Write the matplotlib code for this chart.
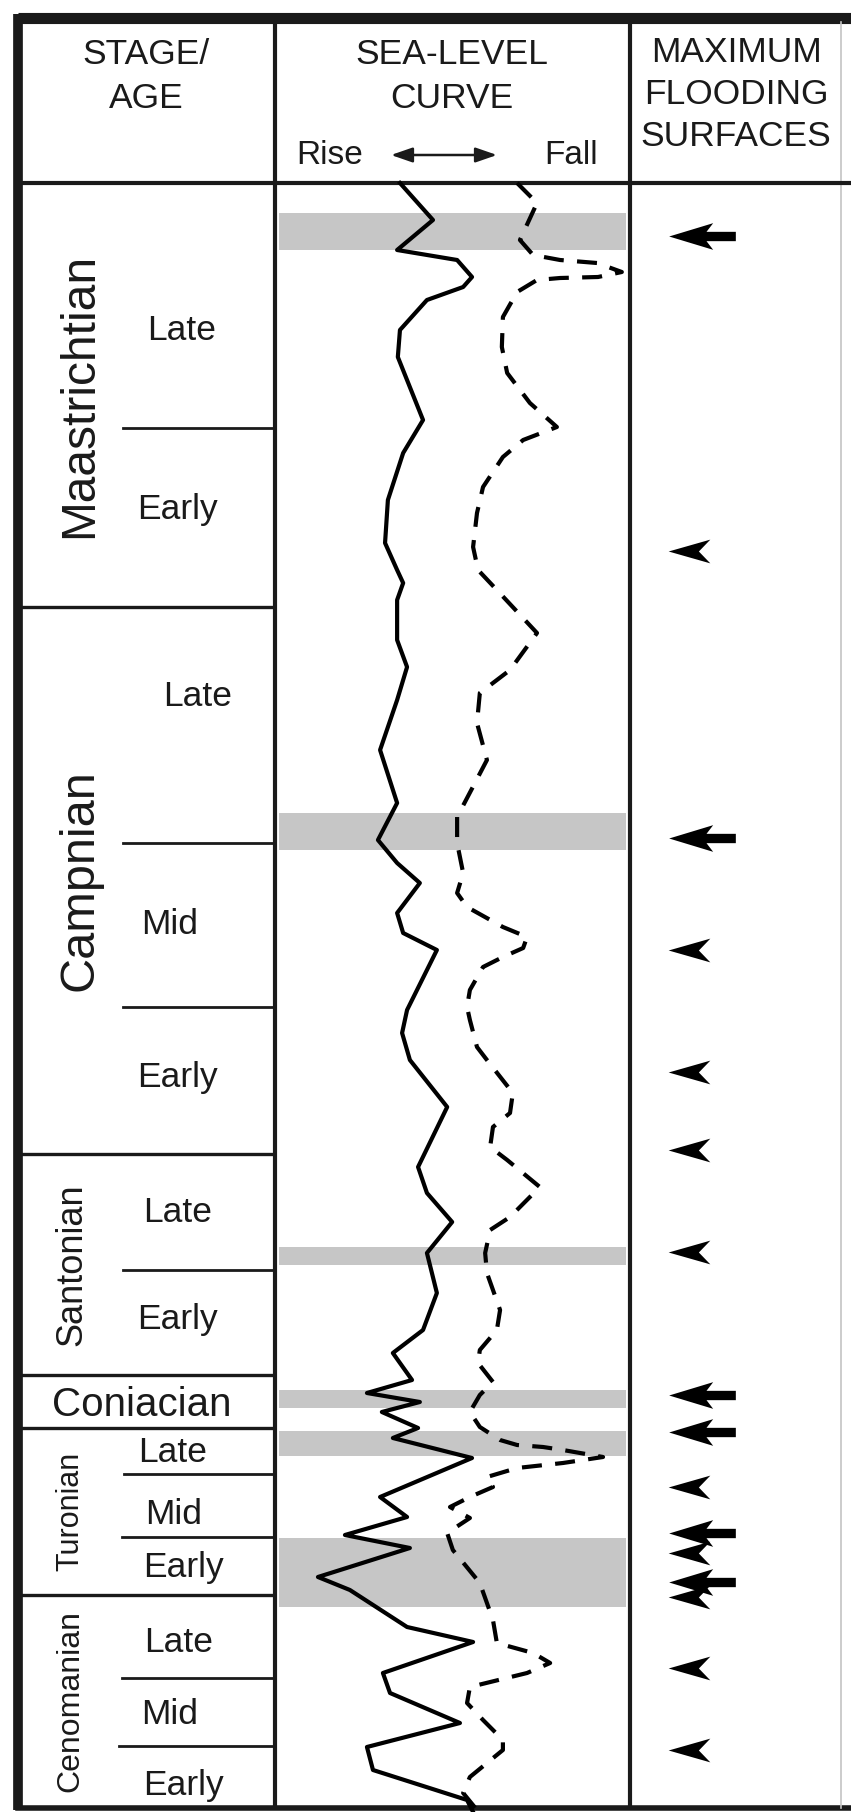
import matplotlib
matplotlib.use("Agg")
import matplotlib.pyplot as plt
from matplotlib.path import Path
import numpy as np

plt.rcParams['font.family'] = ['Liberation Sans', 'DejaVu Sans']
INK = '#1a1a1a'

# ---- stage / age column (vertical positions in chart depth units) ----
stage_names = ['Maastrichtian', 'Campnian', 'Santonian', 'Coniacian', 'Turonian', 'Cenomanian']
stage_tops = [183, 607, 1154, 1375, 1428, 1595]
chart_bottom = 1808
stage_font = [34.5, 35, 26, 29, 22, 23]
stage_label_x = [80, 80, 72, 142, 70, 70]

sub_lines = [428, 843, 1007, 1270, 1474, 1537, 1678, 1746]
sub_line_start = [123, 123, 123, 123, 124, 122, 122, 119]

sub_labels = ['Late', 'Early',
              'Late', 'Mid', 'Early',
              'Late', 'Early',
              'Late', 'Mid', 'Early',
              'Late', 'Mid', 'Early']
sub_label_y = [330, 510, 696, 925, 1077, 1213, 1319, 1453, 1514, 1568, 1643, 1714, 1785]
sub_label_x = [182, 178, 198, 170, 178, 178, 178, 173, 174, 184, 179, 170, 184]

# ---- sea-level curves: 0 = rise ... 100 = fall ----
solid_y = [183, 220, 250, 260, 277, 287, 300, 330, 357, 420, 453, 500, 543, 570, 583, 600,
           640, 667, 700, 750, 803, 840, 863, 883, 913, 933, 950, 1010, 1033, 1060, 1107,
           1167, 1193, 1222, 1253, 1293, 1330, 1353, 1380, 1393, 1402, 1412, 1428, 1438,
           1458, 1497, 1517, 1535, 1548, 1577, 1590, 1627, 1642, 1673, 1693, 1723, 1747,
           1770, 1800, 1812]
solid_x = [35.2, 44.5, 34.4, 51.3, 55.5, 53.0, 42.8, 35.2, 34.6, 41.7, 36.1, 31.8, 31.0,
           34.4, 36.1, 34.4, 34.4, 37.2, 34.4, 29.6, 34.4, 29.0, 34.4, 40.8, 34.4, 36.1,
           45.6, 37.2, 35.8, 38.0, 48.5, 40.3, 42.8, 49.9, 42.8, 45.6, 41.7, 33.2, 38.6,
           25.9, 40.8, 30.1, 40.3, 33.2, 55.5, 29.6, 37.2, 19.7, 38.0, 12.1, 21.1, 37.2,
           55.8, 30.4, 32.4, 52.1, 25.9, 27.6, 54.1, 55.8]

dash_y = [183, 203, 240, 255, 260, 263, 272, 277, 278, 280, 292, 317, 347, 373, 403, 427,
          440, 457, 487, 513, 547, 570, 590, 633, 670, 693, 723, 760, 777, 817, 843, 873,
          893, 907, 927, 937, 948, 957, 967, 990, 1007, 1020, 1047, 1060, 1093, 1113, 1127,
          1147, 1160, 1187, 1217, 1230, 1253, 1273, 1310, 1330, 1350, 1363, 1382, 1395,
          1412, 1427, 1440, 1445, 1447, 1450, 1457, 1463, 1468, 1477, 1487, 1497, 1507,
          1518, 1533, 1550, 1583, 1620, 1643, 1653, 1663, 1673, 1687, 1703, 1720, 1740,
          1750, 1777, 1793, 1810]
dash_x = [68.2, 73.8, 69.0, 72.7, 80.3, 90.7, 97.7, 91.0, 80.3, 73.8, 68.2, 64.2, 63.9,
          65.4, 71.8, 79.4, 69.9, 64.2, 58.6, 56.9, 55.8, 57.2, 62.5, 73.8, 66.2, 57.7,
          56.9, 59.7, 57.2, 51.3, 51.3, 53.0, 51.3, 54.1, 64.2, 71.0, 69.9, 64.2, 58.6,
          54.9, 54.1, 54.9, 56.9, 59.7, 67.0, 66.2, 61.4, 60.6, 65.4, 74.6, 66.2, 60.6,
          59.2, 59.7, 63.4, 62.5, 57.7, 57.2, 61.4, 57.7, 54.9, 57.7, 63.4, 68.2, 75.5,
          81.1, 92.4, 81.1, 68.2, 59.7, 61.4, 54.9, 49.3, 54.9, 48.5, 50.1, 57.7, 61.4,
          62.5, 72.7, 77.5, 71.0, 54.9, 54.1, 58.6, 64.2, 64.2, 54.9, 53.0, 56.9]

# shaded intervals (top, bottom)
bands = [(213, 250), (813, 850), (1247, 1265), (1390, 1408), (1431, 1456), (1538, 1607)]

# ---- maximum flooding surfaces ----
mfs_y = [236, 551, 838, 950, 1072, 1150, 1252, 1395, 1432, 1487, 1533, 1553, 1582, 1597, 1668, 1750]
mfs_kind = ['big', 'small', 'big', 'small', 'small', 'small', 'small', 'big', 'big', 'small',
            'big', 'small', 'big', 'small', 'small', 'small']

W, H = 851, 1812
fig = plt.figure(figsize=(W / 100, H / 100), dpi=100)
fig.patch.set_facecolor('white')

ax = fig.add_axes([0, 0, 1, 1])
ax.set_xlim(0, W)
ax.set_ylim(H, 0)
ax.axis('off')

col_left, col1, col2, col_right = 18, 275, 630, 851

# frame
ax.plot([col_left, col_right], [18, 18], color=INK, lw=8, solid_capstyle='butt')
ax.plot([col_left, col_left], [14, chart_bottom + 2], color=INK, lw=7, solid_capstyle='butt')
ax.plot([col_left, col_right], [chart_bottom, chart_bottom], color=INK, lw=4)
ax.plot([841, 841], [22, chart_bottom], color='#c4c4c4', lw=1.2)
ax.vlines([col1, col2], 18, chart_bottom, color=INK, lw=3)
ax.hlines(stage_tops[0], col_left, col_right, color=INK, lw=3)
ax.hlines(stage_tops[1:], col_left, col1, color=INK, lw=2.4)
for y, x0 in zip(sub_lines, sub_line_start):
    ax.plot([x0, col1], [y, y], color=INK, lw=2)

# header
hfs = 25.5
ax.text(146, 55, 'STAGE/', ha='center', va='center', fontsize=hfs, color=INK)
ax.text(146, 98, 'AGE', ha='center', va='center', fontsize=hfs, color=INK)
ax.text(452, 55, 'SEA-LEVEL', ha='center', va='center', fontsize=hfs, color=INK)
ax.text(452, 98, 'CURVE', ha='center', va='center', fontsize=hfs, color=INK)
ax.text(296, 155, 'Rise', ha='left', va='center', fontsize=24, color=INK)
ax.text(598, 155, 'Fall', ha='right', va='center', fontsize=24, color=INK)
ax.annotate('', xy=(391, 155), xytext=(497, 155),
            arrowprops=dict(arrowstyle='<|-|>,head_length=1.3,head_width=0.45',
                            color=INK, lw=1.8, shrinkA=0, shrinkB=0))
ax.text(736, 53, 'MAXIMUM', ha='center', va='center', fontsize=hfs, color=INK)
ax.text(736, 94, 'FLOODING', ha='center', va='center', fontsize=hfs, color=INK)
ax.text(736, 136, 'SURFACES', ha='center', va='center', fontsize=hfs, color=INK)

# stage labels
bounds = stage_tops + [chart_bottom]
for i, name in enumerate(stage_names):
    yc = (bounds[i] + bounds[i + 1]) / 2
    rot = 0 if name == 'Coniacian' else 90
    ax.text(stage_label_x[i], yc + (3 if rot == 0 else 0), name, rotation=rot,
            ha='center', va='center', fontsize=stage_font[i], color=INK)
for lab, x, y in zip(sub_labels, sub_label_x, sub_label_y):
    ax.text(x, y, lab, ha='center', va='center', fontsize=25.5, color=INK)

# sea-level curve column
axc = fig.add_axes([col1 / W, 0, (col2 - col1) / W, 1])
axc.set_xlim(0, 100)
axc.set_ylim(H, 0)
axc.axis('off')
axc.patch.set_alpha(0)
for top, bot in bands:
    axc.axhspan(top, bot, xmin=0.01, xmax=0.99, facecolor='#c6c6c6', edgecolor='none', zorder=0)
axc.plot(solid_x, solid_y, color='black', lw=3.0, solid_joinstyle='round', zorder=3)
axc.plot(dash_x, dash_y, color='black', lw=3.0, ls=(0, (4.8, 3.2)),
         dash_capstyle='butt', zorder=3)

# maximum flooding surface markers
big_arrow = Path([(-1, 0), (0.32, 0.40), (0.12, 0.14), (1, 0.14), (1, -0.14),
                  (0.12, -0.14), (0.32, -0.40), (-1, 0)],
                 [Path.MOVETO] + [Path.LINETO] * 6 + [Path.CLOSEPOLY])
small_head = Path([(-1, 0), (1, 0.57), (0.45, 0), (1, -0.57), (-1, 0)],
                  [Path.MOVETO] + [Path.LINETO] * 3 + [Path.CLOSEPOLY])

axm = fig.add_axes([col2 / W, 0, (W - col2) / W, 1])
axm.set_xlim(0, 100)
axm.set_ylim(H, 0)
axm.axis('off')
axm.patch.set_alpha(0)
yb = [y for y, k in zip(mfs_y, mfs_kind) if k == 'big']
ys = [y for y, k in zip(mfs_y, mfs_kind) if k == 'small']
axm.plot([32.4] * len(yb), yb, ls='none', marker=big_arrow, markersize=48,
         color='black', markeredgewidth=0)
axm.plot([26.7] * len(ys), ys, ls='none', marker=small_head, markersize=30,
         color='black', markeredgewidth=0)

fig.savefig('out.png', dpi=100, facecolor='white')
